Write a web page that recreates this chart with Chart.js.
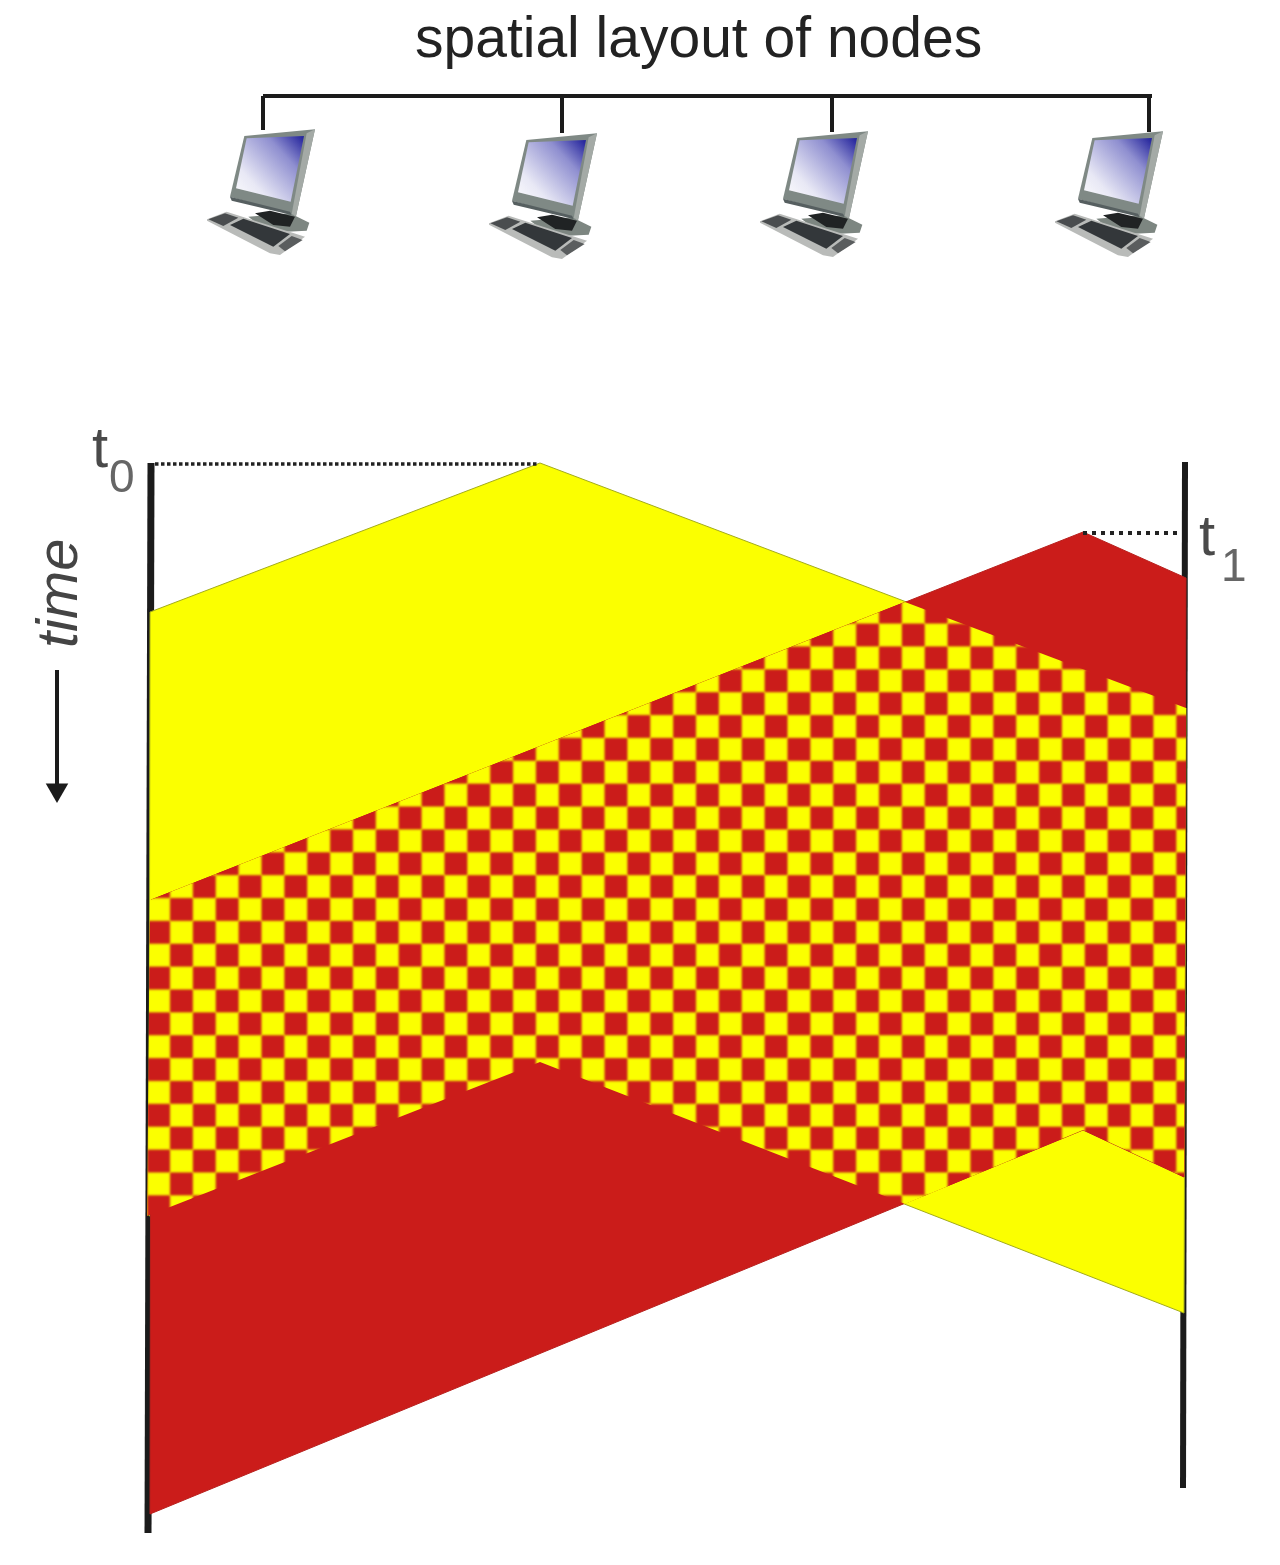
<!DOCTYPE html>
<html><head><meta charset="utf-8">
<style>html,body{margin:0;padding:0;background:#fff}canvas{display:block;filter:blur(.65px)}</style>
<script src="https://cdn.jsdelivr.net/npm/chart.js@4"></script>
</head><body><canvas id="c" width="1280" height="1565"></canvas>
<script>
// Frame-1 transmission (yellow), frame-2 transmission (red), and their overlap
const yellowX=[150,540,1186,1184,540,149,150];
const yellowY=[612,463,708,1313,1062,1216,612];
const redX=[151,1083,1186,1184,1083,150,151];
const redY=[900,532,578,1177,1130,1514,900];
const overlapX=[150,905,1186,1184,1083,905,540,147,150];
const overlapY=[900,602,708,1177,1130,1204,1062,1216,900];
// Node time lines and the shared bus
const leftNodeX=[151,148], leftNodeY=[463,1533];
const rightNodeX=[1185,1183], rightNodeY=[462,1488];
const busX=[263,1152], busY=[96,96];
const dropX=[263,562,832,1149], dropTop=[96,96,96,96], dropBottom=[130,133,132,132];
const nodeX=[261,543,814,1109], nodeY=[192,196,194,194];
// Start markers
const t0X=[155,538], t0Y=[464,464];
const t1X=[1083,1178], t1Y=[533,533];
const arrowX=[57,57], arrowY=[670,790];
const titleText='spatial layout of nodes', timeText='time';

const pts=(xs,ys)=>xs.map((x,i)=>({x,y:ys[i]}));

function makePattern(){
  const cv=document.createElement('canvas');cv.width=cv.height=128;
  const g=cv.getContext('2d');
  g.fillStyle='#fbff00';g.fillRect(0,0,128,128);
  g.filter='blur(3px)';
  for(let r=-2;r<4;r++)for(let c=-2;c<4;c++){
    if(((r+c)%2+2)%2===0){
      g.fillStyle='#cb1c1a';g.fillRect(c*64,r*64,64,64);
    }
  }
  g.filter='none';
  const pat=g.createPattern(cv,'repeat');
  const s=22.87/64;
  pat.setTransform(new DOMMatrix().translate(170,898).scale(s,s));
  return pat;
}

function makeIcon(){
  const cv=document.createElement('canvas');cv.width=108;cv.height=128;
  const g=cv.getContext('2d');
  g.scale(1/3,1/3);g.translate(-51,-144);
  const poly=(a,fill)=>{g.beginPath();a.forEach((p,i)=>i?g.lineTo(p[0],p[1]):g.moveTo(p[0],p[1]));g.closePath();g.fillStyle=fill;g.fill();};
  // base + stand
  poly([[175,410],[300,400],[358,428],[350,452],[290,455],[200,430]],'#7d8681');
  poly([[195,400],[240,392],[315,410],[300,440],[250,435]],'#202324');
  // keyboard
  poly([[46,420],[110,395],[345,470],[270,525],[240,520]],'#b9bbb9');
  poly([[55,418],[105,400],[145,413],[100,438]],'#4a4d4f');
  poly([[120,435],[160,416],[300,462],[250,500]],'#33373a');
  poly([[265,498],[305,468],[338,480],[285,514]],'#5a5d5e');
  // monitor
  poly([[163,168],[375,148],[318,408],[120,350]],'#7f8985');
  poly([[350,160],[375,148],[318,408],[305,402]],'#a4aaa6');
  poly([[120,350],[300,395],[305,405],[125,362]],'#565f60');
  const gr=g.createLinearGradient(335,170,150,340);
  gr.addColorStop(0,'#28289e');gr.addColorStop(.3,'#8f8fd0');gr.addColorStop(.8,'#e8e8f5');gr.addColorStop(1,'#f6f6fb');
  poly([[170,175],[342,168],[302,365],[138,325]],gr);
  return cv;
}

const poly=(x,y,bg,border,order)=>({data:pts(x,y),showLine:true,fill:'shape',backgroundColor:bg,borderColor:border||'rgba(0,0,0,0)',borderWidth:border?1:0,pointRadius:0,order,tension:0});
const stroke=(x,y,w,order,extra)=>Object.assign({data:pts(x,y),showLine:true,fill:false,borderColor:'#1b1b1b',borderWidth:w,pointRadius:0,order,borderCapStyle:'butt',tension:0},extra||{});

const ds=[
  stroke(leftNodeX,leftNodeY,7,20),
  stroke(rightNodeX,rightNodeY,6,20),
  poly(yellowX,yellowY,'#fbff00','#a3ab1c',10),
  poly(redX,redY,'#cb1c1a','#b9201d',9),
  poly(overlapX,overlapY,makePattern(),null,8),
  stroke(busX,busY,4,7),
  ...dropX.map((x,i)=>stroke([x,x],[dropTop[i],dropBottom[i]],4,7)),
  stroke(t0X,t0Y,3.5,7,{borderDash:[3.5,2.5],borderColor:'#222'}),
  stroke(t1X,t1Y,4,7,{borderDash:[4,5],borderColor:'#222'}),
  stroke(arrowX,arrowY,4,7),
  {data:[{x:arrowX[1],y:arrowY[1]}],showLine:false,pointStyle:'triangle',pointRotation:180,pointRadius:13,backgroundColor:'#1b1b1b',borderColor:'#1b1b1b',borderWidth:0,order:6},
  {data:pts(nodeX,nodeY),showLine:false,pointStyle:makeIcon(),pointRadius:1,order:6}
];

const textPlugin={id:'texts',afterDraw(ch){
  const g=ch.ctx,sx=ch.scales.x,sy=ch.scales.y;
  const put=(s,x,y,font,col,align)=>{g.font=font;g.fillStyle=col;g.textAlign=align||'left';g.textBaseline='alphabetic';g.fillText(s,sx.getPixelForValue(x),sy.getPixelForValue(y));};
  g.save();
  put(titleText,415,57,'57px "Liberation Sans"','#222');
  put('t',92,467,'58px "Liberation Sans"','#4a4a4a');
  put('0',109,492,'46px "Liberation Sans"','#666');
  put('t',1199,555,'58px "Liberation Sans"','#4a4a4a');
  put('1',1221,581,'46px "Liberation Sans"','#666');
  g.translate(sx.getPixelForValue(77),sy.getPixelForValue(648));
  g.rotate(-Math.PI/2);
  g.font='italic 58px "Liberation Sans"';g.fillStyle='#444';g.textAlign='left';
  g.fillText(timeText,0,0);
  g.restore();
}};

new Chart(document.getElementById('c'),{
  type:'scatter',
  data:{datasets:ds},
  plugins:[textPlugin,{id:'bg',beforeDraw(ch){ch.ctx.save();ch.ctx.fillStyle='#fff';ch.ctx.fillRect(0,0,ch.width,ch.height);ch.ctx.restore();}}],
  options:{responsive:false,animation:false,
    layout:{padding:0,autoPadding:false},
    plugins:{legend:{display:false},tooltip:{enabled:false},title:{display:false}},
    scales:{
      x:{type:'linear',min:0,max:1280,display:false},
      y:{type:'linear',min:0,max:1565,reverse:true,display:false}
    }}
});
</script></body></html>
